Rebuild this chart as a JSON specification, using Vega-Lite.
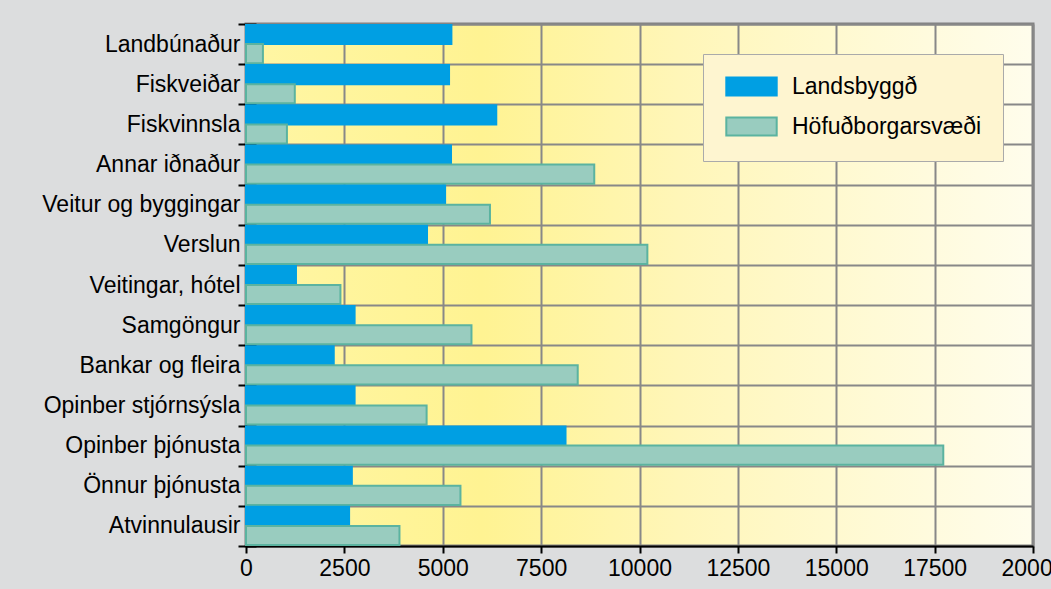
{
  "$schema": "https://vega.github.io/schema/vega-lite/v6.json",
  "width": 787,
  "height": 522,
  "autosize": "none",
  "padding": {"left": 246, "top": 24, "right": 18, "bottom": 43},
  "background": "#DCDDDE",
  "datasets": {
    "main": [
      {"cat": "Landbúnaður", "series": "Landsbyggð", "value": 5220},
      {"cat": "Landbúnaður", "series": "Höfuðborgarsvæði", "value": 430},
      {"cat": "Fiskveiðar", "series": "Landsbyggð", "value": 5160},
      {"cat": "Fiskveiðar", "series": "Höfuðborgarsvæði", "value": 1240},
      {"cat": "Fiskvinnsla", "series": "Landsbyggð", "value": 6360},
      {"cat": "Fiskvinnsla", "series": "Höfuðborgarsvæði", "value": 1040},
      {"cat": "Annar iðnaður", "series": "Landsbyggð", "value": 5210},
      {"cat": "Annar iðnaður", "series": "Höfuðborgarsvæði", "value": 8850},
      {"cat": "Veitur og byggingar", "series": "Landsbyggð", "value": 5060},
      {"cat": "Veitur og byggingar", "series": "Höfuðborgarsvæði", "value": 6200},
      {"cat": "Verslun", "series": "Landsbyggð", "value": 4600},
      {"cat": "Verslun", "series": "Höfuðborgarsvæði", "value": 10200},
      {"cat": "Veitingar, hótel", "series": "Landsbyggð", "value": 1270},
      {"cat": "Veitingar, hótel", "series": "Höfuðborgarsvæði", "value": 2400},
      {"cat": "Samgöngur", "series": "Landsbyggð", "value": 2760},
      {"cat": "Samgöngur", "series": "Höfuðborgarsvæði", "value": 5730},
      {"cat": "Bankar og fleira", "series": "Landsbyggð", "value": 2230},
      {"cat": "Bankar og fleira", "series": "Höfuðborgarsvæði", "value": 8430},
      {"cat": "Opinber stjórnsýsla", "series": "Landsbyggð", "value": 2760},
      {"cat": "Opinber stjórnsýsla", "series": "Höfuðborgarsvæði", "value": 4590},
      {"cat": "Opinber þjónusta", "series": "Landsbyggð", "value": 8120},
      {"cat": "Opinber þjónusta", "series": "Höfuðborgarsvæði", "value": 17720},
      {"cat": "Önnur þjónusta", "series": "Landsbyggð", "value": 2690},
      {"cat": "Önnur þjónusta", "series": "Höfuðborgarsvæði", "value": 5450},
      {"cat": "Atvinnulausir", "series": "Landsbyggð", "value": 2620},
      {"cat": "Atvinnulausir", "series": "Höfuðborgarsvæði", "value": 3900}
    ]
  },
  "data": {"name": "main"},
  "layer": [
    {
      "data": {"values": [{"k": 1}]},
      "mark": {"type": "rule", "color": "#000000", "strokeWidth": 2},
      "encoding": {
        "x": {"datum": 0, "type": "quantitative"}
      }
    },
    {
      "mark": {"type": "bar", "strokeWidth": 2, "fillOpacity": 1, "opacity": 1},
      "encoding": {
        "y": {
          "field": "cat",
          "type": "nominal",
          "sort": null,
          "scale": {"paddingInner": 0, "paddingOuter": 0},
          "axis": {
            "title": null,
            "tickBand": "extent",
            "grid": true,
            "gridColor": "#888888",
            "gridWidth": 2,
            "domain": false,
            "offset": -10,
            "tickColor": "#000000",
            "tickWidth": 2,
            "tickSize": 18,
            "labelFont": "Liberation Sans",
            "labelFontSize": 23,
            "labelColor": "#000000",
            "labelPadding": -2,
            "labelLimit": 300
          }
        },
        "yOffset": {
          "field": "series",
          "type": "nominal",
          "sort": ["Landsbyggð", "Höfuðborgarsvæði"],
          "scale": {"paddingInner": 0, "paddingOuter": 0.05}
        },
        "x": {
          "field": "value",
          "type": "quantitative",
          "scale": {"domain": [0, 20000], "nice": false},
          "axis": {
            "title": null,
            "values": [0, 2500, 5000, 7500, 10000, 12500, 15000, 17500, 20000],
            "format": "d",
            "grid": true,
            "gridColor": "#888888",
            "gridWidth": 2,
            "domainColor": "#000000",
            "domainWidth": 2,
            "tickColor": "#000000",
            "tickWidth": 2,
            "tickSize": 7,
            "labelFont": "Liberation Sans",
            "labelFontSize": 23,
            "labelColor": "#000000",
            "labelPadding": 4,
            "labelFlush": false,
            "labelOverlap": false,
            "labelBound": false
          }
        },
        "fill": {
          "field": "series",
          "type": "nominal",
          "scale": {"domain": ["Landsbyggð", "Höfuðborgarsvæði"], "range": ["#009FE3", "#99CCBF"]},
          "legend": {"title": null}
        },
        "stroke": {
          "field": "series",
          "type": "nominal",
          "scale": {"domain": ["Landsbyggð", "Höfuðborgarsvæði"], "range": ["#009FE3", "#5BB3A0"]},
          "legend": {"title": null}
        }
      }
    }
  ],
  "config": {
    "view": {
      "stroke": "#808080",
      "strokeWidth": 3,
      "fill": {
        "gradient": "linear",
        "x1": 0, "y1": 0, "x2": 1, "y2": 0,
        "stops": [
          {"offset": 0, "color": "#FFF6A4"},
          {"offset": 0.3, "color": "#FFF392"},
          {"offset": 0.55, "color": "#FFF6B8"},
          {"offset": 0.8, "color": "#FFFAD6"},
          {"offset": 1, "color": "#FFFDEC"}
        ]
      }
    },
    "legend": {
      "orient": "top-right",
      "offset": 30,
      "fillColor": "#FEF5D0",
      "strokeColor": "#AAAAAA",
      "padding": 21,
      "symbolType": "M-2.8,-1H2.8V1H-2.8Z",
      "symbolSize": 324,
      "symbolOffset": 16,
      "symbolStrokeWidth": 2,
      "labelFont": "Liberation Sans",
      "labelFontSize": 23,
      "labelColor": "#000000",
      "labelOffset": 29,
      "labelLimit": 300,
      "rowPadding": 13
    }
  }
}
